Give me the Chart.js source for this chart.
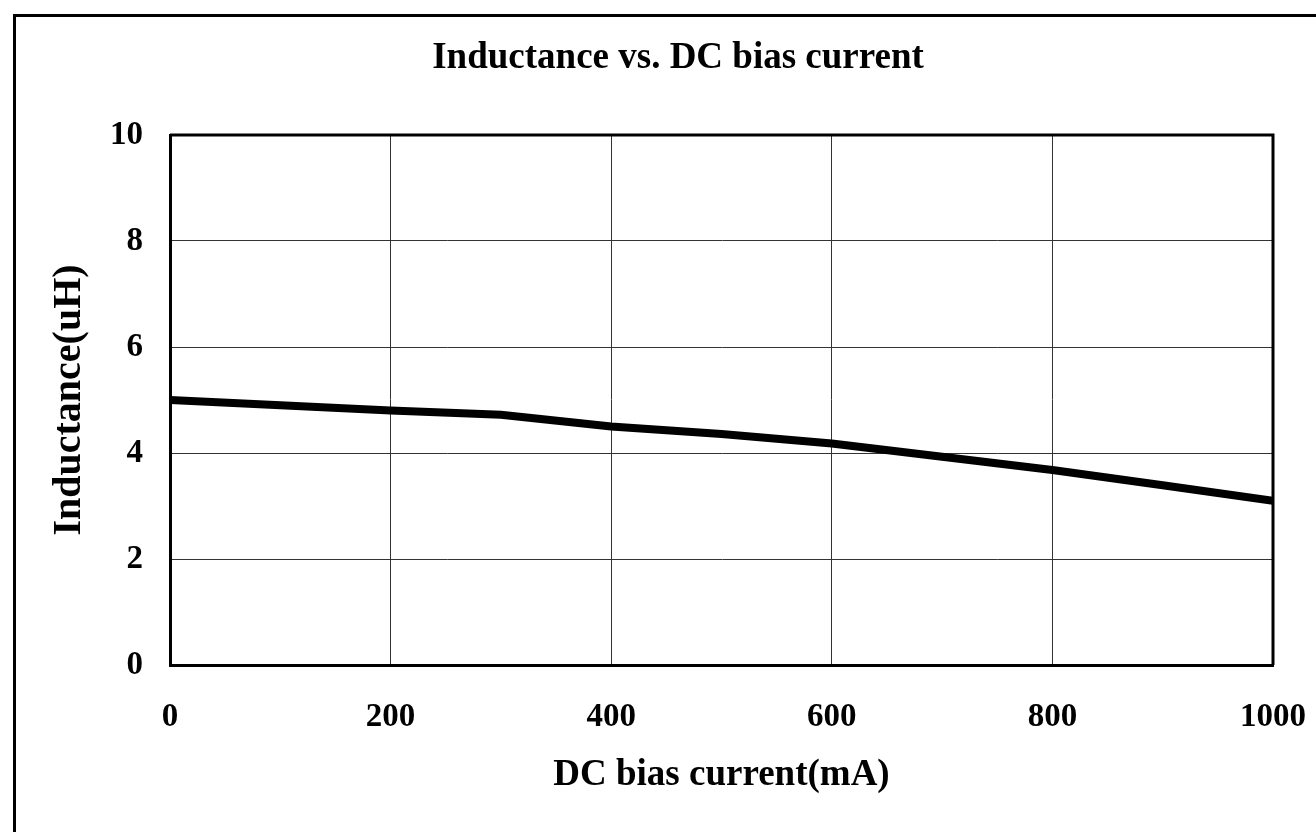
<!DOCTYPE html>
<html>
<head>
<meta charset="utf-8">
<title>Inductance vs. DC bias current</title>
<script src="https://cdn.jsdelivr.net/npm/chart.js@4/dist/chart.umd.min.js"></script>
<style>
    html, body { margin: 0; padding: 0; background: #fff; }
    #wrap { width: 1316px; height: 832px; position: relative; }
</style>
</head>
<body>
<div id="wrap"><canvas id="biasChart" width="1316" height="832"></canvas></div>
<script>
// values
const currentMA = [0, 100, 200, 300, 400, 500, 600, 700, 800, 900, 1000];
const inductanceUH = [5.0, 4.9, 4.8, 4.72, 4.5, 4.36, 4.18, 3.93, 3.68, 3.39, 3.1];
const xTicks = [0, 200, 400, 600, 800, 1000];
const yTicks = [0, 2, 4, 6, 8, 10];
const chartTitle = 'Inductance vs. DC bias current';

const SERIF = "'Liberation Serif', 'Times New Roman', serif";

// white page, outer frame, title and the top/right edges of the plot box
const framePlugin = {
    id: 'frame',
    beforeDraw(chart) {
        const ctx = chart.ctx;
        ctx.save();
        ctx.fillStyle = '#fff';
        ctx.fillRect(0, 0, chart.width, chart.height);
        ctx.strokeStyle = '#000';
        ctx.lineWidth = 3;
        ctx.strokeRect(14.5, 15.5, chart.width + 40, chart.height + 40);
        // title is centred on the page, not on the plot box
        ctx.fillStyle = '#000';
        ctx.font = 'bold 37px ' + SERIF;
        ctx.textAlign = 'center';
        ctx.textBaseline = 'middle';
        ctx.fillText(chartTitle, 678, 58);
        ctx.restore();
    },
    afterDatasetsDraw(chart) {
        const { ctx, chartArea: a } = chart;
        ctx.save();
        ctx.strokeStyle = '#000';
        ctx.lineWidth = 3;
        ctx.beginPath();
        ctx.moveTo(a.left, a.top);
        ctx.lineTo(a.right, a.top);
        ctx.lineTo(a.right, a.bottom);
        ctx.stroke();
        ctx.restore();
    }
};

const ctx = document.getElementById('biasChart').getContext('2d');
const biasChart = new Chart(ctx, {
    type: 'line',
    data: {
        datasets: [{
            label: 'Inductance',
            data: currentMA.map((x, i) => ({ x: x, y: inductanceUH[i] })),
            borderColor: '#000',
            borderWidth: 8,
            pointRadius: 0,
            tension: 0,
            fill: false
        }]
    },
    options: {
        responsive: false,
        animation: false,
        layout: { padding: { left: 0, right: 43, top: 135, bottom: 0 } },
        plugins: {
            legend: { display: false },
            tooltip: { enabled: false },
            title: { display: false }
        },
        scales: {
            x: {
                type: 'linear',
                min: 0,
                max: 1000,
                afterBuildTicks(scale) { scale.ticks = xTicks.map(v => ({ value: v })); },
                afterFit(scale) {
                    scale.height = 167;
                    // "1000" fits inside the right padding
                    scale.paddingRight = 0;
                },
                grid: { color: '#333', lineWidth: 1, drawTicks: false },
                border: { color: '#000', width: 3 },
                ticks: {
                    color: '#000',
                    padding: 33,
                    maxRotation: 0,
                    callback: v => String(v),
                    font: { family: SERIF, size: 33, weight: 'bold' }
                },
                title: {
                    display: true,
                    text: 'DC bias current(mA)',
                    color: '#000',
                    font: { family: SERIF, size: 37, weight: 'bold' },
                    padding: { top: 0, bottom: 34 }
                }
            },
            y: {
                type: 'linear',
                min: 0,
                max: 10,
                afterBuildTicks(scale) { scale.ticks = yTicks.map(v => ({ value: v })); },
                afterFit(scale) { scale.width = 170; },
                grid: { color: '#333', lineWidth: 1, drawTicks: false },
                border: { color: '#000', width: 3 },
                ticks: {
                    color: '#000',
                    padding: 27,
                    callback: v => String(v),
                    font: { family: SERIF, size: 33, weight: 'bold' }
                },
                title: {
                    display: true,
                    text: 'Inductance(uH)',
                    color: '#000',
                    font: { family: SERIF, size: 40, weight: 'bold' },
                    padding: { top: 46, bottom: 0 }
                }
            }
        }
    },
    plugins: [framePlugin]
});
</script>
</body>
</html>
